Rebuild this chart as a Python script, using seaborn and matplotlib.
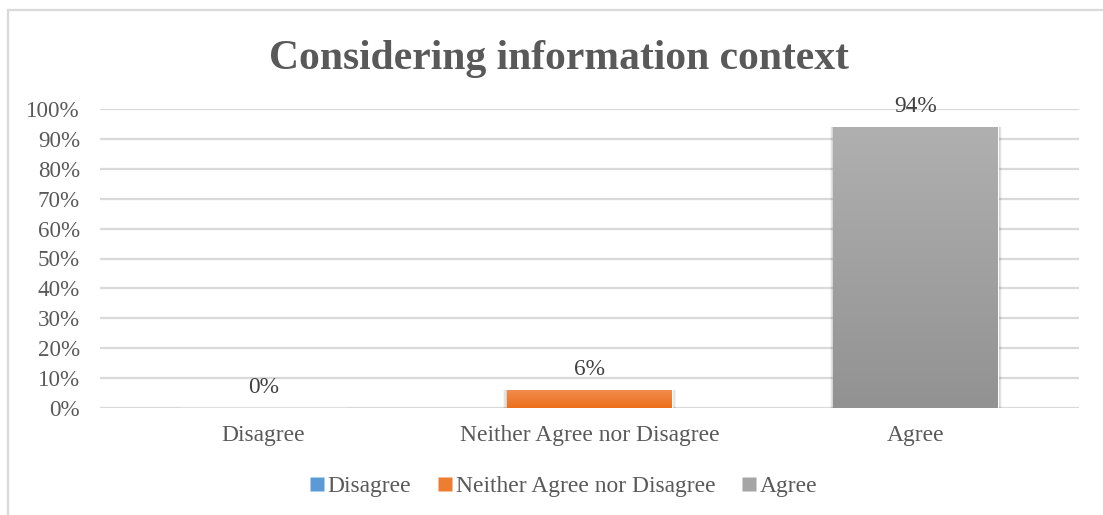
import numpy as np
import pandas as pd
import matplotlib
matplotlib.use("Agg")
import matplotlib.pyplot as plt
from matplotlib.lines import Line2D
from matplotlib.colors import LinearSegmentedColormap
import seaborn as sns

# Survey responses
categories = ["Disagree", "Neither Agree nor Disagree", "Agree"]
shares = [0.00, 0.06, 0.94]
value_labels = ["0%", "6%", "94%"]
y_ticks = [0.0, 0.1, 0.2, 0.3, 0.4, 0.5, 0.6, 0.7, 0.8, 0.9, 1.0]
y_tick_labels = ["0%", "10%", "20%", "30%", "40%", "50%", "60%", "70%", "80%", "90%", "100%"]
title = "Considering information context"

# top / bottom colours of each bar's vertical gradient
bar_top = ["#6aa3dc", "#f28c4b", "#b0b0b0"]
bar_bottom = ["#3c7fc4", "#ec6f1c", "#929292"]
base_colors = ["#5b9bd5", "#ed7d31", "#a5a5a5"]

sns.set_theme(style="white")
plt.rcParams["font.family"] = ["Liberation Serif", "DejaVu Serif"]

W, H = 1103, 515
fig = plt.figure(figsize=(W / 100, H / 100), dpi=100)
ax = fig.add_axes([100 / W, 1 - 408 / H, (1079 - 100) / W, (408 - 109) / H])

df = pd.DataFrame({"category": categories, "share": shares})
sns.barplot(data=df, x="category", y="share", hue="category", palette=base_colors,
            width=0.505, legend=False, ax=ax, saturation=1)

ax.set_ylim(0, 1.0)
ax.set_xlim(-0.5, 2.5)
ax.set_yticks(y_ticks)
ax.set_yticklabels(y_tick_labels)
ax.set_xlabel("")
ax.set_ylabel("")
ax.tick_params(axis="both", length=0, colors="#595959")
ax.tick_params(axis="y", pad=14.4, labelsize=16.6)
ax.tick_params(axis="x", pad=12.5, labelsize=16.9)
for s in ax.spines.values():
    s.set_visible(False)
ax.yaxis.grid(True, color="#d9d9d9", linewidth=1.6)
ax.set_axisbelow(True)

# gradient fill and soft shadow on every bar
for patch, c_top, c_bot in zip(ax.patches, bar_top, bar_bottom):
    x0, y0 = patch.get_x(), patch.get_y()
    w, h = patch.get_width(), patch.get_height()
    if h <= 0:
        continue
    for k, a in enumerate([0.10, 0.07, 0.04]):
        dx = 0.004 * (k + 1)
        dy = 0.004 * (k + 1)
        sh = plt.Rectangle((x0 - dx, y0 - dy), w + 2 * dx, h + dy,
                           facecolor="#000000", alpha=a, edgecolor="none", zorder=1.5)
        ax.add_patch(sh)
    patch.set_zorder(2)
    cmap = LinearSegmentedColormap.from_list("g", [c_bot, c_top])
    grad = np.linspace(0, 1, 256).reshape(-1, 1)
    im = ax.imshow(grad, cmap=cmap, aspect="auto", origin="lower",
                   extent=[x0, x0 + w, y0, y0 + h], zorder=2.5)
    im.set_clip_path(patch)
ax.set_xlim(-0.5, 2.5)
ax.set_ylim(0, 1.0)

# value labels above bars
for i, (v, lab) in enumerate(zip(shares, value_labels)):
    ax.annotate(lab, (i, v), xytext=(0, 7), textcoords="offset points",
                ha="center", va="bottom", fontsize=16.8, color="#404040")

fig.text(558.5 / W, 1 - 69 / H, title, ha="center", va="baseline", fontsize=30,
         fontweight="bold", color="#595959")

handles = [Line2D([], [], marker="s", linestyle="none", markersize=9.5,
                  markerfacecolor=c, markeredgecolor="none") for c in base_colors]
fig.legend(handles, categories, loc="center", bbox_to_anchor=(562 / W, 1 - 486 / H),
           ncol=3, frameon=False, fontsize=16.9, handletextpad=0.0,
           columnspacing=1.0, handlelength=0.9, labelcolor="#595959",
           borderpad=0, borderaxespad=0)

# chart-area border
fig.add_artist(Line2D([8 / W, 1], [1 - 10 / H, 1 - 10 / H], color="#d9d9d9", linewidth=1.6))
fig.add_artist(Line2D([8 / W, 8 / W], [1 - 10 / H, 0], color="#d9d9d9", linewidth=1.6))

fig.savefig("out.png", dpi=100)
